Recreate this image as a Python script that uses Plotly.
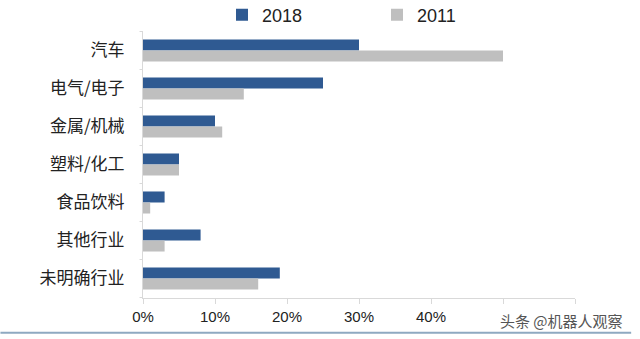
import plotly.graph_objects as go

categories = ["汽车", "电气/电子", "金属/机械", "塑料/化工", "食品饮料", "其他行业", "未明确行业"]
share_2018 = [30, 25, 10, 5, 3, 8, 19]
share_2011 = [50, 14, 11, 5, 1, 3, 16]
tick_vals = [0, 10, 20, 30, 40, 50, 60]
tick_text = ["0%", "10%", "20%", "30%", "40%", "", ""]

fig = go.Figure()
fig.add_trace(go.Bar(y=categories, x=share_2018, name="2018", orientation="h",
                     marker=dict(color="#2F5A92", line=dict(width=0))))
fig.add_trace(go.Bar(y=categories, x=share_2011, name="2011", orientation="h",
                     marker=dict(color="#BFBFBF", line=dict(width=0))))

fig.update_layout(
    width=640, height=339,
    margin=dict(l=143, r=65, t=31, b=41, autoexpand=False),
    paper_bgcolor="white", plot_bgcolor="white",
    barmode="group", bargap=0.42, bargroupgap=0,
    font=dict(family="Liberation Sans, Arial, sans-serif", color="#222"),
    legend=dict(orientation="h", xref="container", yref="container",
                x=222 / 640, xanchor="left", y=1 - 15 / 339, yanchor="middle",
                font=dict(size=18, color="#222"), entrywidth=110,
                itemwidth=30, traceorder="normal"),
    showlegend=True,
)
fig.update_xaxes(range=[0, 60], tickvals=tick_vals, ticktext=tick_text,
                 showgrid=False, zeroline=False, showline=True, linecolor="#D9D9D9",
                 linewidth=1, ticks="outside", ticklen=5, tickcolor="#D9D9D9",
                 tickfont=dict(size=15, color="#222", family="Liberation Sans, Arial, sans-serif"))
fig.update_yaxes(autorange="reversed", showgrid=False, zeroline=False, showline=True,
                 linecolor="#D9D9D9", linewidth=1, ticks="", ticklabelstandoff=14,
                 tickfont=dict(size=17, color="#222", family="Noto Sans CJK SC"))

# category separator ticks on the left axis
for i in range(len(categories) + 1):
    fig.add_shape(type="line", xref="paper", yref="y", x0=-0.008, x1=0,
                  y0=i - 0.5, y1=i - 0.5, line=dict(color="#D9D9D9", width=1))

# bottom decorative line
fig.add_shape(type="line", xref="paper", yref="paper", x0=-0.33, x1=1.13,
              y0=-0.13, y1=-0.13, line=dict(color="#8EA9C1", width=2))

# watermark
fig.add_annotation(text="头条 @机器人观察", xref="paper", yref="paper", x=0.822, y=-0.083,
                   xanchor="left", yanchor="middle", showarrow=False,
                   font=dict(size=15, color="#555", family="Noto Sans CJK SC"))

fig.write_html("out.html")
